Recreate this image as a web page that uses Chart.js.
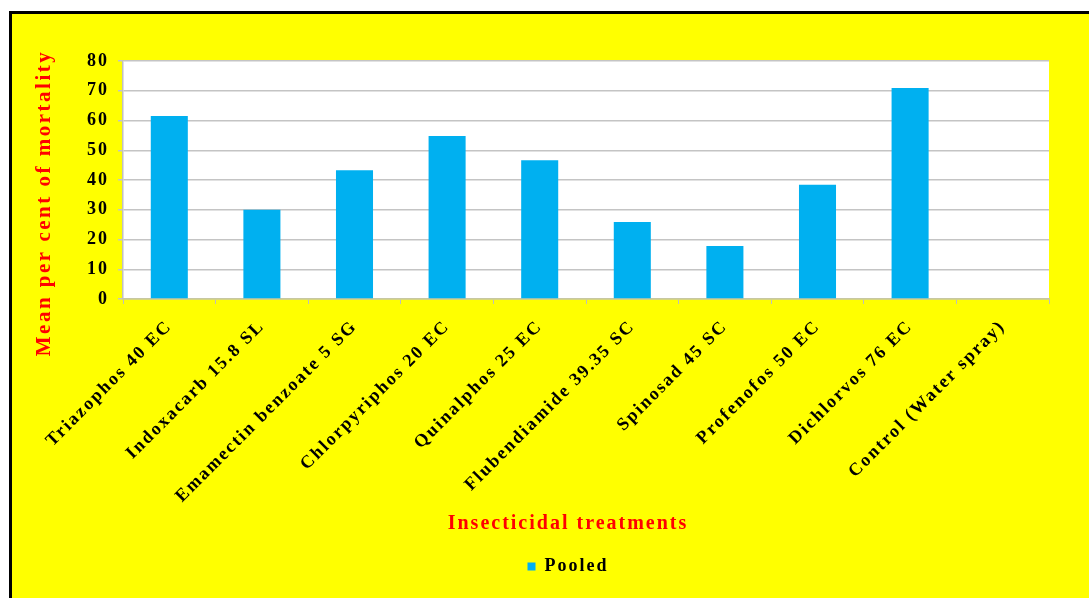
<!DOCTYPE html>
<html>
<head>
<meta charset="utf-8">
<script src="https://cdn.jsdelivr.net/npm/chart.js@4"></script>
<style>
  html, body { margin: 0; padding: 0; background: #fff; }
  body { width: 1089px; height: 598px; overflow: hidden; position: relative; }
  #frame { position: absolute; left: 9px; top: 11px; right: 0; bottom: 0; background: #ffff00;
           border-left: 3px solid #000; border-top: 3px solid #000; }
  #wrap { position: absolute; left: 0; top: 0; width: 1077px; height: 584px; }
</style>
</head>
<body>
<div id="frame"><div id="wrap"><canvas id="mortalityChart"></canvas></div></div>
<script>
// values
const treatments = [
    'Triazophos 40 EC', 'Indoxacarb 15.8 SL', 'Emamectin benzoate 5 SG', 'Chlorpyriphos 20 EC',
    'Quinalphos 25 EC', 'Flubendiamide 39.35 SC', 'Spinosad 45 SC', 'Profenofos 50 EC',
    'Dichlorvos 76 EC', 'Control (Water spray)'
];
const pooled = [61.5, 30.0, 43.3, 54.8, 46.6, 25.9, 17.8, 38.4, 70.9, 0];
const yMin = 0, yMax = 80, yStep = 10;
const seriesName = 'Pooled';
const xTitle = 'Insecticidal treatments';
const yTitle = 'Mean per cent of mortality';

const serif = '"Liberation Serif", "Times New Roman", serif';
Chart.defaults.font.family = serif;
Chart.defaults.color = '#000';

// the reference text is widely spaced, canvas letterSpacing mimics it
const spacingPlugin = {
    id: 'spacing',
    beforeLayout(chart) { chart.ctx.letterSpacing = '2px'; },
    beforeDraw(chart) { chart.ctx.letterSpacing = '2px'; }
};

const plotBg = {
    id: 'plotBg',
    beforeDraw(chart) {
        const { ctx, chartArea: a } = chart;
        ctx.save();
        ctx.fillStyle = '#fff';
        ctx.fillRect(a.left, a.top, a.right - a.left, a.bottom - a.top);
        ctx.restore();
    }
};

const yTitlePlugin = {
    id: 'yTitle',
    afterDraw(chart) {
        const { ctx, chartArea: a } = chart;
        ctx.save();
        ctx.letterSpacing = '2.5px';
        ctx.font = 'bold 21px ' + serif;
        ctx.fillStyle = '#ff0000';
        ctx.translate(a.left - 78, (a.top + a.bottom) / 2 + 23);
        ctx.rotate(-Math.PI / 2);
        ctx.textAlign = 'center';
        ctx.textBaseline = 'middle';
        ctx.fillText(yTitle, 0, 0);
        ctx.restore();
    }
};

const ctx = document.getElementById('mortalityChart').getContext('2d');
new Chart(ctx, {
    type: 'bar',
    data: {
        labels: treatments,
        datasets: [{
            label: seriesName,
            data: pooled,
            backgroundColor: '#00b0f0',
            borderWidth: 0,
            barPercentage: 0.4,
            categoryPercentage: 1
        }]
    },
    options: {
        responsive: true,
        maintainAspectRatio: false,
        animation: false,
        layout: { padding: { top: 47, right: 40, left: 75, bottom: 12.5 } },
        scales: {
            x: {
                afterFit(scale) { scale.height = 213; },
                grid: { drawOnChartArea: false, drawTicks: true, tickLength: 5, color: '#bdbdbd' },
                border: { color: '#c8c8a0', width: 1.5 },
                ticks: {
                    autoSkip: false, minRotation: 45, maxRotation: 45, padding: 12,
                    font: { size: 18, weight: 'bold' }, color: '#000'
                }
            },
            y: {
                min: yMin, max: yMax,
                afterFit(scale) { scale.width = 36; },
                grid: { color: '#c4c4c4', lineWidth: 1.5, tickLength: 5 },
                border: { color: '#c0c0c0', width: 1.5 },
                ticks: { stepSize: yStep, padding: 9, font: { size: 18, weight: 'bold' }, color: '#000' }
            }
        },
        plugins: {
            tooltip: { enabled: false },
            title: {
                display: true, text: xTitle, position: 'bottom', weight: 500,
                color: '#ff0000', font: { size: 20, weight: 'bold' },
                padding: { top: 0, bottom: 11.5 }
            },
            legend: {
                position: 'bottom',
                labels: {
                    boxWidth: 8, boxHeight: 8, padding: 10, color: '#000',
                    font: { size: 18, weight: 'bold' }
                }
            }
        }
    },
    plugins: [spacingPlugin, plotBg, yTitlePlugin]
});
</script>
</body>
</html>
